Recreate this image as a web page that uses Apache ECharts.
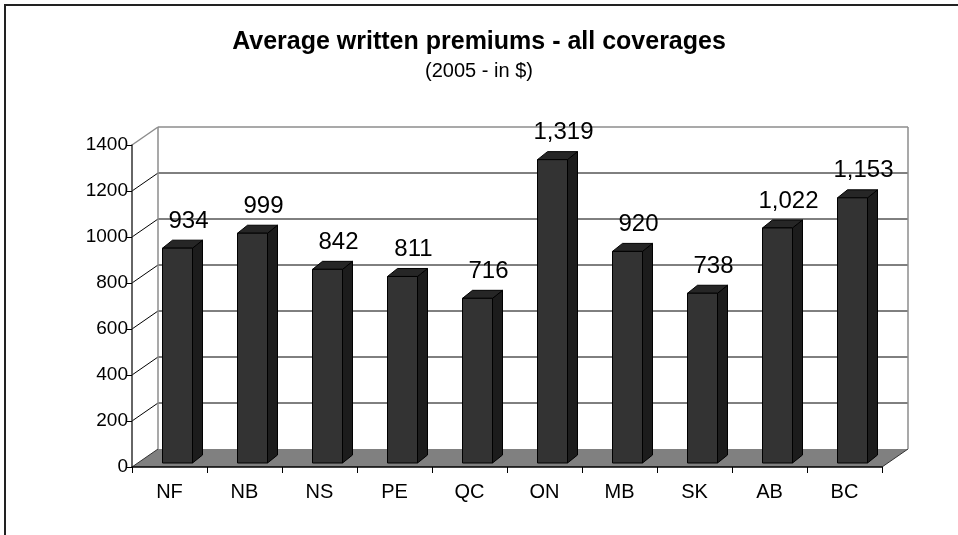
<!DOCTYPE html>
<html>
<head>
<meta charset="utf-8">
<script src="https://cdn.jsdelivr.net/npm/echarts@6/dist/echarts.min.js"></script>
<style>html,body{margin:0;padding:0;background:#fff}#c{width:958px;height:535px}</style>
</head>
<body>
<div id="c"></div>
<script>
const categories = ['NF', 'NB', 'NS', 'PE', 'QC', 'ON', 'MB', 'SK', 'AB', 'BC'];
const premiums = [934, 999, 842, 811, 716, 1319, 920, 738, 1022, 1153];
const yMin = 0, yMax = 1400, yStep = 200;
const yTicks = [0, 200, 400, 600, 800, 1000, 1200, 1400];
const titleText = 'Average written premiums - all coverages';
const subText = '(2005 - in $)';

const FONT = '"Liberation Sans", Arial, sans-serif';
const DX = 26, DY = -18;           // wall depth
const FX = 8, FY = -4;             // bar front offset
const SX = 10, SY = -8;            // bar depth

const chart = echarts.init(document.getElementById('c'), null, {renderer: 'canvas'});

function frameItem(params, api) {
  const cs = params.coordSys;
  const v = api.value(1);
  const y = api.coord([0, v])[1];
  const x0 = cs.x, x1 = cs.x + cs.width;
  const yBottom = cs.y + cs.height;
  const kids = [];
  const grey = '#8c8c8c';
  if (v === yMin) {
    kids.push({type: 'polygon', shape: {points: [[x0, y], [x1, y], [x1 + DX, y + DY], [x0 + DX, y + DY]]},
      style: {fill: '#808080', stroke: null}});
    kids.push({type: 'line', shape: {x1: x1, y1: y, x2: x1 + DX, y2: y + DY}, style: {stroke: '#333', lineWidth: 1}});
    kids.push({type: 'line', shape: {x1: x0, y1: y, x2: x0 + DX, y2: y + DY}, style: {stroke: '#333', lineWidth: 1}});
  } else {
    const col = v === yMax ? grey : '#000';
    const lw = v === yMax ? 1.5 : 1;
    kids.push({type: 'line', shape: {x1: x0 + DX, y1: y + DY, x2: x1 + DX, y2: y + DY}, style: {stroke: col, lineWidth: lw}});
    kids.push({type: 'line', shape: {x1: x0, y1: y, x2: x0 + DX, y2: y + DY}, style: {stroke: col, lineWidth: lw}});
  }
  if (v === yMax) {
    kids.push({type: 'line', shape: {x1: x0 + DX, y1: y + DY, x2: x0 + DX, y2: yBottom + DY}, style: {stroke: grey, lineWidth: 1.5}});
    kids.push({type: 'line', shape: {x1: x1 + DX, y1: y + DY, x2: x1 + DX, y2: yBottom + DY}, style: {stroke: grey, lineWidth: 1.5}});
  }
  return {type: 'group', children: kids};
}

function barItem(params, api) {
  const idx = api.value(0);
  const val = api.value(1);
  const base = api.coord([idx, 0]);
  const top = api.coord([idx, val]);
  const bw = api.size([1, 0])[0] * 0.4;
  const xl = base[0] - bw / 2 + FX, xr = xl + bw;
  const yb = base[1] + FY, yt = top[1] + FY;
  const st = {stroke: '#000', lineWidth: 1, lineJoin: 'round'};
  return {
    type: 'group',
    children: [
      {type: 'polygon', shape: {points: [[xr, yt], [xr + SX, yt + SY], [xr + SX, yb + SY], [xr, yb]]},
        style: Object.assign({fill: '#1c1c1c'}, st)},
      {type: 'polygon', shape: {points: [[xl, yt], [xr, yt], [xr + SX, yt + SY], [xl + SX, yt + SY]]},
        style: Object.assign({fill: '#262626'}, st)},
      {type: 'polygon', shape: {points: [[xl, yt], [xr, yt], [xr, yb], [xl, yb]]},
        style: Object.assign({fill: '#333333'}, st)},
      {type: 'text', x: (xl + xr) / 2 + 11, y: yt - 27,
        style: {text: val.toLocaleString('en-US'), fill: '#000', font: '24px ' + FONT,
          align: 'center', verticalAlign: 'middle'}}
    ]
  };
}

chart.setOption({
  animation: false,
  backgroundColor: '#fff',
  title: {
    text: titleText, subtext: subText, left: 'center', top: 24, itemGap: 6,
    textStyle: {fontFamily: FONT, fontSize: 25, fontWeight: 'bold', color: '#000', lineHeight: 26},
    subtextStyle: {fontFamily: FONT, fontSize: 20, color: '#000', lineHeight: 20}
  },
  graphic: [{
    type: 'rect', shape: {x: 5, y: 5, width: 1000, height: 600},
    style: {fill: null, stroke: '#222', lineWidth: 2}, z: 0
  }],
  grid: {left: 132, top: 145, width: 750, height: 322, containLabel: false},
  xAxis: {
    type: 'category', data: categories,
    axisLine: {lineStyle: {color: '#000', width: 1.5}},
    axisTick: {show: true, length: 6, lineStyle: {color: '#000'}},
    axisLabel: {fontFamily: FONT, fontSize: 20, color: '#000', margin: 15},
    z: 5
  },
  yAxis: {
    type: 'value', min: yMin, max: yMax, interval: yStep,
    axisLine: {show: true, lineStyle: {color: '#333', width: 1.5}},
    axisTick: {show: true, length: 6, lineStyle: {color: '#000'}},
    axisLabel: {fontFamily: FONT, fontSize: 19, color: '#000', margin: 4, formatter: v => String(v)},
    splitLine: {show: false},
    z: 5
  },
  series: [
    {type: 'custom', name: 'frame', renderItem: frameItem, clip: false, silent: true, z: 1,
      data: yTicks.map(v => [0, v]), encode: {x: 0, y: 1}},
    {type: 'custom', name: 'premiums', renderItem: barItem, clip: false, z: 3,
      data: premiums.map((v, i) => [i, v]), encode: {x: 0, y: 1}}
  ]
});
</script>
</body>
</html>
